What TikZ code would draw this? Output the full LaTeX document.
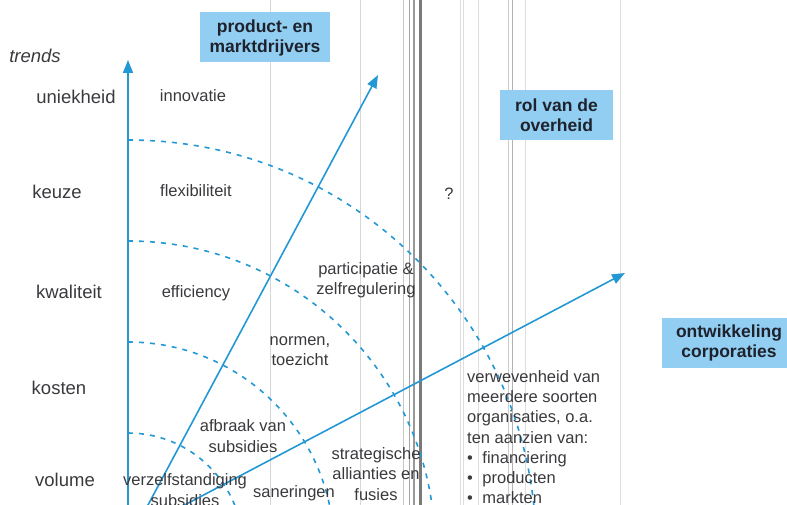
\documentclass[tikz,border=0pt]{standalone}
\usepackage{fontspec}
\setmainfont{Liberation Sans}
\usetikzlibrary{arrows.meta}
\definecolor{axisblue}{RGB}{35,152,212}
\definecolor{boxblue}{RGB}{145,206,242}
\definecolor{labelgray}{RGB}{58,58,62}
\definecolor{headink}{RGB}{30,34,45}
\begin{document}
\begin{tikzpicture}[x=1pt,y=-1pt,
  trendarrow/.style={axisblue, line width=1.6pt, -{Triangle[length=13pt,width=10pt]}},
  ring/.style={axisblue, line width=1.6pt, dash pattern=on 5pt off 6pt},
  seam/.style={line width=#1},
  trendlabel/.style={text=labelgray, font=\fontsize{18.5}{22}\selectfont, inner sep=0pt},
  fieldlabel/.style={text=labelgray, font=\fontsize{16.5}{20.3}\selectfont, align=center, inner sep=0pt},
  driver/.style={fill=boxblue, text=headink, font=\bfseries\fontsize{17.5}{20}\selectfont,
    align=center, inner sep=0pt, minimum height=50pt}]
\useasboundingbox (0,0) rectangle (787,505);
\clip (0,0) rectangle (787,505);

% paper seams and gutter
\draw[seam=0.8pt, black!16] (270,0) -- (270,505);
\draw[seam=0.8pt, black!16] (360,0) -- (360,505);
\draw[seam=0.8pt, black!22] (403,0) -- (403,505);
\draw[seam=1pt,   black!35] (409,0) -- (409,505);
\draw[seam=1.2pt, black!40] (414,0) -- (414,505);
\draw[seam=2.4pt, black!52] (420.5,0) -- (420.5,505);
\draw[seam=0.8pt, black!13] (460,0) -- (460,505);
\draw[seam=0.8pt, black!13] (463,0) -- (463,505);
\draw[seam=0.8pt, black!13] (478,0) -- (478,505);
\draw[seam=0.8pt, black!20] (508,0) -- (508,505);
\draw[seam=1pt,   black!30] (512,0) -- (512,505);
\draw[seam=0.8pt, black!13] (525,0) -- (525,505);
\draw[seam=0.8pt, black!13] (620,0) -- (620,505);

% origins and tips of the trend arrows
\coordinate (o1) at (128,548);
\coordinate (o2) at (125,548);
\coordinate (o3) at (103,548);
\coordinate (t1) at (128,60);
\coordinate (t2) at (378,75);
\coordinate (t3) at (625,273);

% concentric dashed rings
\draw[ring] (128,140) arc[start angle=-90, end angle=0, radius=408];
\draw[ring] (128,241) arc[start angle=-90, end angle=0, radius=307];
\draw[ring] (128,342) arc[start angle=-90, end angle=0, radius=206];
\draw[ring] (128,433) arc[start angle=-90, end angle=0, radius=115];

% arrows
\draw[trendarrow] (o1) -- (t1);
\draw[trendarrow] (o2) -- (t2);
\draw[trendarrow] (o3) -- (t3);

% headers
\node[driver, minimum width=130pt] (pm) at (265,37.5) {product- en\\marktdrijvers};
\node[driver, minimum width=113pt] (ov) at (556.5,115) {rol van de\\overheid};
\node[driver, minimum width=134pt] (oc) at (729,343) {ontwikkeling\\corporaties};

% trend axis labels
\node[trendlabel, font=\itshape\fontsize{18.5}{22}\selectfont] (tr) at (35,56) {trends};
\node[trendlabel] (uh) at (76,97) {uniekheid};
\node[trendlabel] (ke) at (57,192) {keuze};
\node[trendlabel] (kw) at (69,292) {kwaliteit};
\node[trendlabel] (ko) at (59,388) {kosten};
\node[trendlabel] (vo) at (65,480) {volume};

% market drivers
\node[fieldlabel] (in) at (193,96) {innovatie};
\node[fieldlabel] (fl) at (196,191) {flexibiliteit};
\node[fieldlabel] (ef) at (196,293) {efficiency};
\node[fieldlabel] (ve) at (185,490) {verzelfstandiging\\subsidies};

% government role
\node[fieldlabel] (pz) at (366,280) {participatie \&\\zelfregulering};
\node[fieldlabel] (nt) at (300,351) {normen,\\toezicht};
\node[fieldlabel] (as) at (243,436) {afbraak van\\subsidies};
\node[fieldlabel] (sa) at (294,493) {saneringen};
\node[fieldlabel] (q)  at (449,194) {?};

% corporations
\node[fieldlabel] (st) at (376,474) {strategische\\allianties en\\fusies};
\node[fieldlabel, align=left, anchor=north west] (vw) at (467,370)
  {verwevenheid van\\meerdere soorten\\organisaties, o.a.\\ten aanzien van:\\
   \textbullet\hspace{9.5pt}financiering\\
   \textbullet\hspace{9.5pt}producten\\
   \textbullet\hspace{9.5pt}markten};
\end{tikzpicture}
\end{document}
